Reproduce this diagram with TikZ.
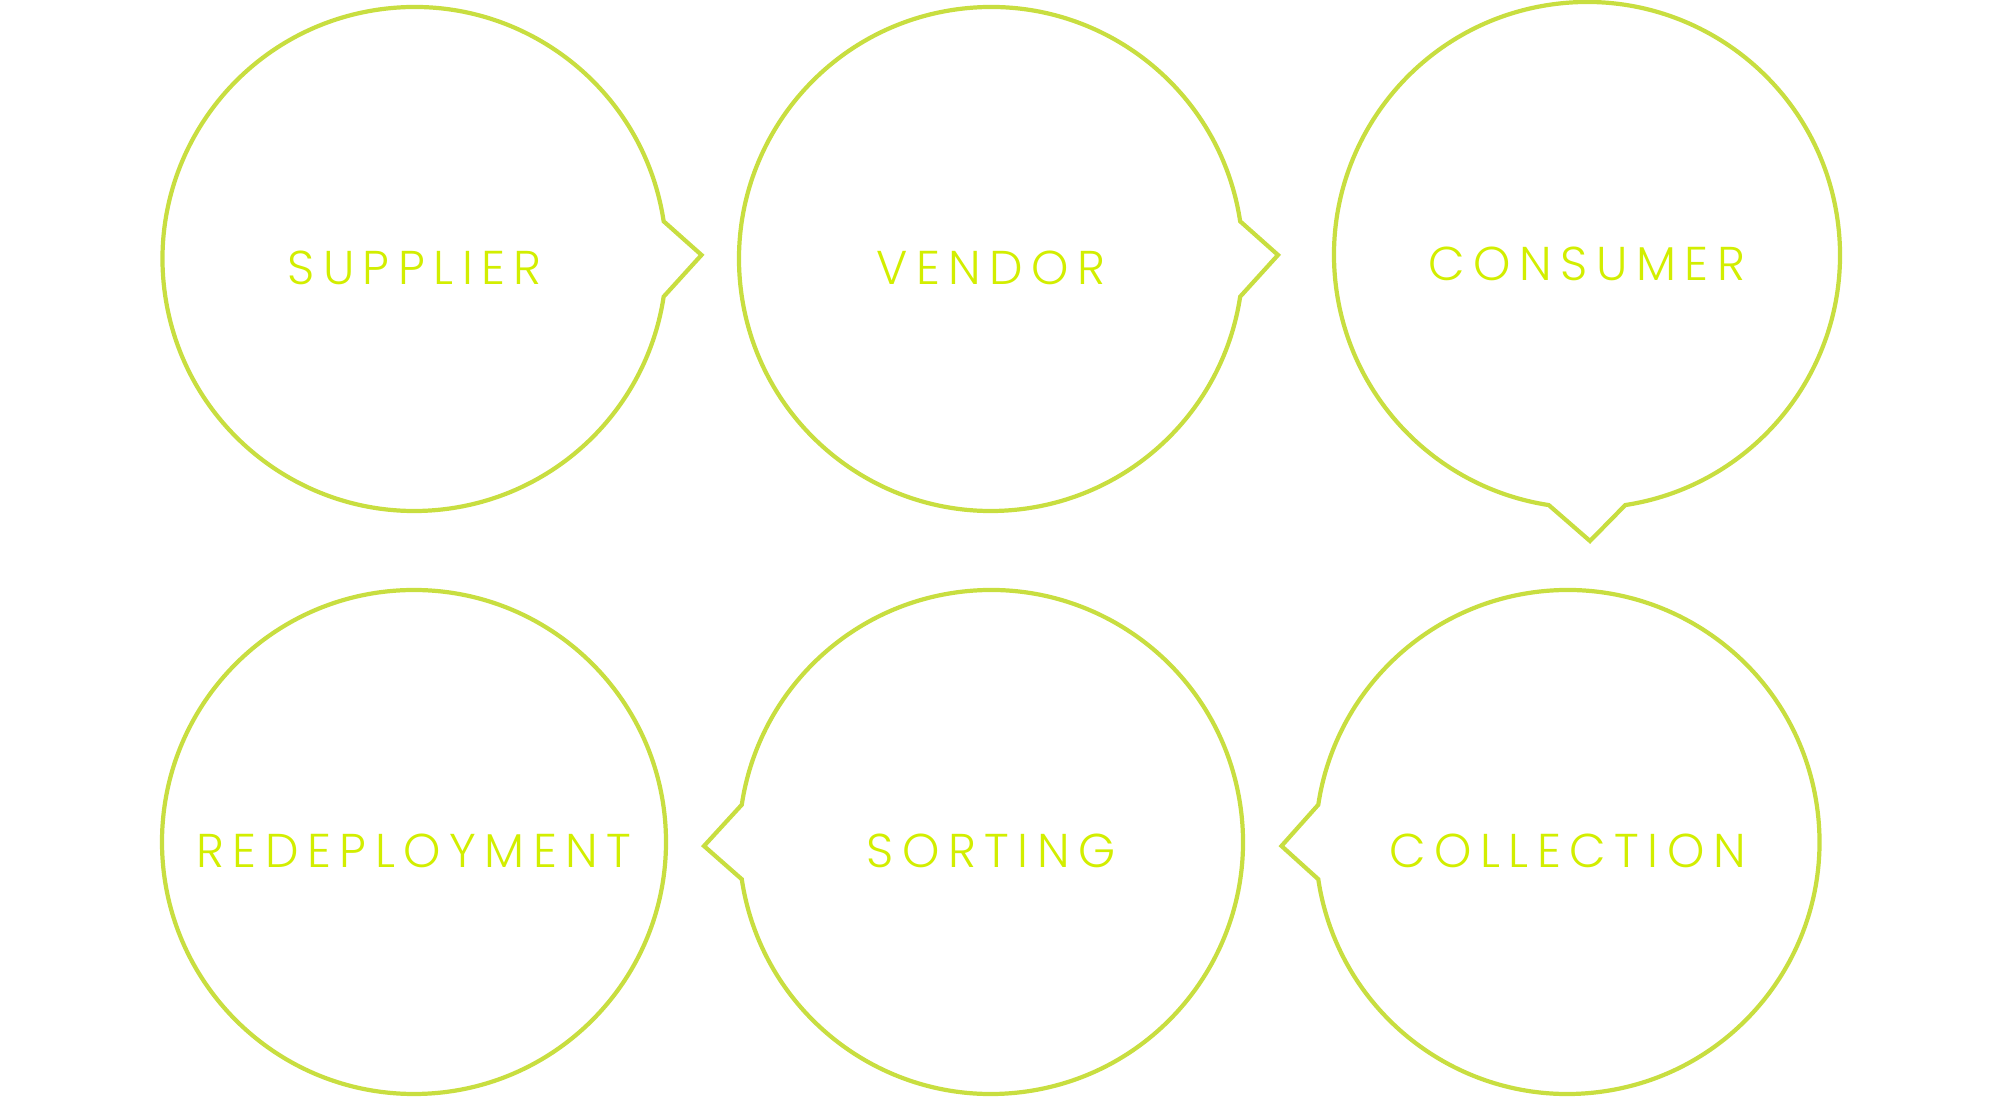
\documentclass[tikz,border=0pt]{standalone}
\usepackage{fontspec}
\IfFontExistsTF{Poppins Light}
  {\newfontfamily\bubblefont{Poppins Light}[LetterSpace=18]}
  {\newfontfamily\bubblefont{Poppins}[LetterSpace=18]}
\usepackage{tikz}
\usepackage{xcolor}
\definecolor{bubbleline}{RGB}{200,222,64}
\definecolor{bubbleink}{RGB}{210,238,0}
\tikzset{
    bubble/.style = {draw=bubbleline, line width=1.2pt, line join=miter},
    bubble-title/.style = {text=bubbleink, font=\bubblefont\fontsize{13.5}{16}\selectfont, inner sep=0pt},
}

\begin{document}
\begin{tikzpicture}
\useasboundingbox (0,0) rectangle (20,11);
\coordinate (c-sup) at (4.145,8.41);
\coordinate (c-ven) at (9.91,8.41);
\coordinate (c-con) at (15.87,8.45);
\coordinate (c-red) at (4.14,2.58);
\coordinate (c-sor) at (9.91,2.58);
\coordinate (c-col) at (15.675,2.58);

\node[bubble-title] (sup) at ([yshift=-0.85mm]c-sup) {SUPPLIER};
\node[bubble-title] (ven) at ([yshift=-0.85mm]c-ven) {VENDOR};
\node[bubble-title] (con) at ([yshift=-0.85mm]c-con) {CONSUMER};
\node[bubble-title] (red) at ([yshift=-0.85mm]c-red) {REDEPLOYMENT};
\node[bubble-title] (sor) at ([yshift=-0.85mm]c-sor) {SORTING};
\node[bubble-title] (col) at ([yshift=-0.85mm]c-col) {COLLECTION};

% speech bubbles, pointer towards the next step
\draw[bubble] ([shift={(8.6:2.52)}]c-sup) arc[start angle=8.6, end angle=351.4, radius=2.52] -- ([shift={(2.87,0.04)}]c-sup) -- cycle;
\draw[bubble] ([shift={(8.6:2.52)}]c-ven) arc[start angle=8.6, end angle=351.4, radius=2.52] -- ([shift={(2.87,0.04)}]c-ven) -- cycle;
\draw[bubble] ([shift={(-81.3:2.53)}]c-con) arc[start angle=-81.3, end angle=261.3, radius=2.53] -- ([shift={(0.03,-2.86)}]c-con) -- cycle;
\draw[bubble] (c-red) circle[radius=2.52];
\draw[bubble] ([shift={(188.5:2.52)}]c-sor) arc[start angle=188.5, end angle=531.5, radius=2.52] -- ([shift={(-2.87,-0.04)}]c-sor) -- cycle;
\draw[bubble] ([shift={(188.5:2.52)}]c-col) arc[start angle=188.5, end angle=531.5, radius=2.52] -- ([shift={(-2.86,-0.04)}]c-col) -- cycle;
\end{tikzpicture}
\end{document}
